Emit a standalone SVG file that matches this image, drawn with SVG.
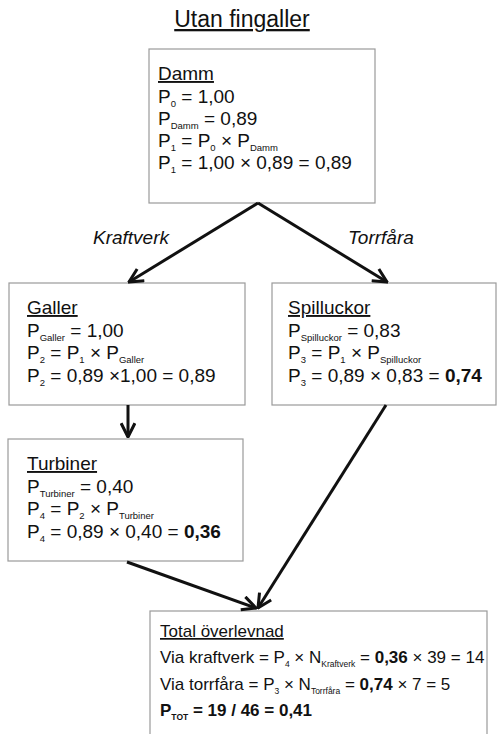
<svg xmlns="http://www.w3.org/2000/svg" width="504" height="734" viewBox="0 0 504 734">
<style>
text{font-family:"Liberation Sans",Arial,sans-serif;fill:#111;}
.t{font-size:19px;}
.b{font-size:17px;}
.s{font-size:9.5px;}
.ss{font-size:8.5px;}
.box{fill:#fff;stroke:#9a9a9a;stroke-width:1.2;}
.c{stroke:#111;stroke-width:3;fill:none;marker-end:url(#ah);}
.bold{font-weight:bold;}
</style>
<defs>
<marker id="ah" viewBox="0 0 12 12" refX="11" refY="6" markerWidth="5.5" markerHeight="5.5" orient="auto" markerUnits="strokeWidth">
<path d="M1,1 L11,6 L1,11" fill="none" stroke="#111" stroke-width="2.2"/>
</marker>
</defs>
<rect width="504" height="734" fill="#fff"/>
<g id="title"><text x="242" y="27" text-anchor="middle" style="font-size:23px;text-decoration:underline">Utan fingaller</text></g>
<g id="damm">
<rect class="box" x="149" y="49" width="226" height="154"/>
<text class="t" x="158" y="80" text-decoration="underline">Damm</text>
<text class="t" x="158" y="103">P<tspan class="s" dy="4">0</tspan><tspan dy="-4"> = 1,00</tspan></text>
<text class="t" x="158" y="125">P<tspan class="s" dy="4">Damm</tspan><tspan dy="-4"> = 0,89</tspan></text>
<text class="t" x="158" y="147">P<tspan class="s" dy="4">1</tspan><tspan dy="-4"> = P</tspan><tspan class="s" dy="4">0</tspan><tspan dy="-4"> × P</tspan><tspan class="s" dy="4">Damm</tspan></text>
<text class="t" x="158" y="169">P<tspan class="s" dy="4">1</tspan><tspan dy="-4"> = 1,00 × 0,89 = 0,89</tspan></text>
</g>
<g id="galler">
<rect class="box" x="9" y="283" width="236" height="122"/>
<text class="t" x="27" y="314" text-decoration="underline">Galler</text>
<text class="t" x="27" y="337">P<tspan class="s" dy="4">Galler</tspan><tspan dy="-4"> = 1,00</tspan></text>
<text class="t" x="27" y="359">P<tspan class="s" dy="4">2</tspan><tspan dy="-4"> = P</tspan><tspan class="s" dy="4">1</tspan><tspan dy="-4"> × P</tspan><tspan class="s" dy="4">Galler</tspan></text>
<text class="t" x="27" y="382">P<tspan class="s" dy="4">2</tspan><tspan dy="-4"> = 0,89 ×1,00 = 0,89</tspan></text>
</g>
<g id="spilluckor">
<rect class="box" x="272" y="283" width="224" height="122"/>
<text class="t" x="288" y="314" text-decoration="underline">Spilluckor</text>
<text class="t" x="288" y="337">P<tspan class="s" dy="4">Spilluckor</tspan><tspan dy="-4"> = 0,83</tspan></text>
<text class="t" x="288" y="359">P<tspan class="s" dy="4">3</tspan><tspan dy="-4"> = P</tspan><tspan class="s" dy="4">1</tspan><tspan dy="-4"> × P</tspan><tspan class="s" dy="4">Spilluckor</tspan></text>
<text class="t" x="288" y="382">P<tspan class="s" dy="4">3</tspan><tspan dy="-4"> = 0,89 × 0,83 = </tspan><tspan class="bold">0,74</tspan></text>
</g>
<g id="turbiner">
<rect class="box" x="8" y="439" width="235" height="122"/>
<text class="t" x="27" y="470" text-decoration="underline">Turbiner</text>
<text class="t" x="27" y="493">P<tspan class="s" dy="4">Turbiner</tspan><tspan dy="-4"> = 0,40</tspan></text>
<text class="t" x="27" y="515">P<tspan class="s" dy="4">4</tspan><tspan dy="-4"> = P</tspan><tspan class="s" dy="4">2</tspan><tspan dy="-4"> × P</tspan><tspan class="s" dy="4">Turbiner</tspan></text>
<text class="t" x="27" y="538">P<tspan class="s" dy="4">4</tspan><tspan dy="-4"> = 0,89 × 0,40 = </tspan><tspan class="bold">0,36</tspan></text>
</g>
<g id="total">
<rect class="box" x="150" y="611" width="337" height="130"/>
<text class="b" x="160" y="637" text-decoration="underline">Total överlevnad</text>
<text class="b" x="160" y="663">Via kraftverk = P<tspan class="ss" dy="4">4</tspan><tspan dy="-4"> × N</tspan><tspan class="ss" dy="4">Kraftverk</tspan><tspan dy="-4"> = </tspan><tspan class="bold">0,36</tspan> × 39 = 14</text>
<text class="b" x="160" y="690">Via torrfåra = P<tspan class="ss" dy="4">3</tspan><tspan dy="-4"> × N</tspan><tspan class="ss" dy="4">Torrfåra</tspan><tspan dy="-4"> =  </tspan><tspan class="bold">0,74</tspan> × 7 = 5</text>
<text class="b bold" x="160" y="716">P<tspan class="ss" dy="4">TOT</tspan><tspan dy="-4"> = 19 / 46 = 0,41</tspan></text>
</g>
<g id="labels">
<text class="t" x="93" y="244" font-style="italic">Kraftverk</text>
<text class="t" x="348" y="244" font-style="italic">Torrfåra</text>
</g>
<g id="connectors">
<line class="c" x1="258" y1="203" x2="129" y2="282"/>
<line class="c" x1="258" y1="203" x2="387" y2="282"/>
<line class="c" x1="128" y1="405" x2="128" y2="437"/>
<line class="c" x1="127" y1="562" x2="256" y2="608"/>
<line class="c" x1="386" y1="405" x2="258" y2="608"/>
</g>
</svg>
